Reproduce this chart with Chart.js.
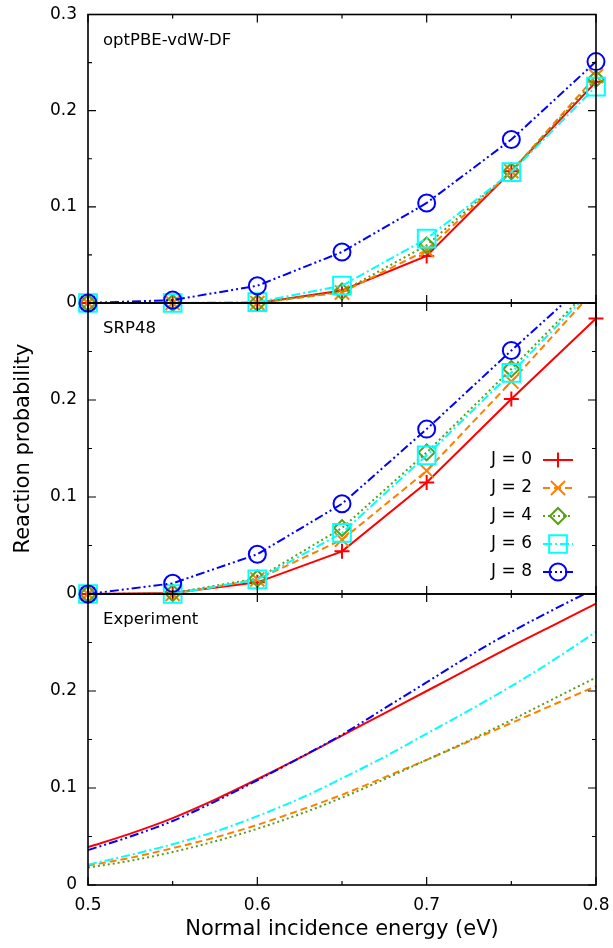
<!DOCTYPE html>
<html>
<head>
<meta charset="utf-8">
<script src="https://cdn.jsdelivr.net/npm/chart.js@4.4.1/dist/chart.umd.min.js"></script>
<style>
  html, body { margin: 0; padding: 0; background: #fff; }
  #wrap { position: relative; width: 613px; height: 948px; }
  #wrap canvas { position: absolute; left: 0; top: 0; }
</style>
</head>
<body>
<div id="wrap">
  <canvas id="panel-opt" width="613" height="948"></canvas>
  <canvas id="panel-srp" width="613" height="948"></canvas>
  <canvas id="panel-exp" width="613" height="948"></canvas>
</div>
<script>
"use strict";

// normal incidence energies (eV) of the computed points
const energies = [0.5, 0.55, 0.6, 0.65, 0.7, 0.75, 0.8];
const jLabels = ["J = 0", "J = 2", "J = 4", "J = 6", "J = 8"];

// optPBE-vdW-DF
const optJ0 = [0, 0, 0, 0.013, 0.049, 0.137, 0.230];
const optJ2 = [0, 0, 0, 0.011, 0.055, 0.137, 0.236];
const optJ4 = [0, 0, 0, 0.012, 0.060, 0.137, 0.233];
const optJ6 = [0, 0, 0.001, 0.018, 0.067, 0.136, 0.225];
const optJ8 = [0, 0.003, 0.018, 0.053, 0.104, 0.170, 0.251];

// SRP48
const srpJ0 = [0, 0.001, 0.012, 0.044, 0.115, 0.201, 0.284];
const srpJ2 = [0, 0, 0.015, 0.056, 0.127, 0.219, 0.315];
const srpJ4 = [0, 0.001, 0.016, 0.068, 0.146, 0.232, 0.321];
const srpJ6 = [0, 0, 0.015, 0.063, 0.143, 0.228, 0.318];
const srpJ8 = [0, 0.011, 0.041, 0.093, 0.170, 0.251, 0.330];

// experiment (fitted curves)
const expEnergies = [0.5, 0.525, 0.55, 0.575, 0.6, 0.625, 0.65, 0.675, 0.7, 0.725, 0.75, 0.775, 0.8];
const expJ0 = [0.039, 0.053, 0.069, 0.088, 0.109, 0.131, 0.154, 0.177, 0.200, 0.223, 0.246, 0.268, 0.290];
const expJ2 = [0.020, 0.028, 0.038, 0.049, 0.062, 0.077, 0.093, 0.111, 0.129, 0.148, 0.167, 0.186, 0.205];
const expJ4 = [0.018, 0.025, 0.034, 0.045, 0.058, 0.073, 0.090, 0.109, 0.129, 0.149, 0.170, 0.192, 0.214];
const expJ6 = [0.021, 0.031, 0.042, 0.055, 0.071, 0.089, 0.110, 0.132, 0.156, 0.180, 0.205, 0.232, 0.261];
const expJ8 = [0.036, 0.050, 0.066, 0.086, 0.108, 0.131, 0.155, 0.182, 0.209, 0.236, 0.261, 0.284, 0.306];

const FONT = "DejaVu Sans";

// line/marker look for each J
const styles = [
    { color: "#ff0000", dash: [], point: "cross", radius: 7.5 },
    { color: "#ff8000", dash: [7, 4], point: "crossRot", radius: 10 },
    { color: "#5a9e1a", dash: [2, 3], point: "rectRot", radius: 8 },
    { color: "#00ffff", dash: [9, 3, 2, 3], point: "rect", radius: 12.5 },
    { color: "#0000ff", dash: [9, 3, 2, 3, 2, 3], point: "circle", radius: 8.5 }
];

function makeSets(series, xs, withPoints) {
    return series.map((vals, i) => ({
        label: jLabels[i],
        data: vals.map((v, k) => ({ x: xs[k], y: v })),
        order: series.length - i,
        borderColor: styles[i].color,
        borderWidth: 2,
        borderDash: styles[i].dash,
        pointStyle: styles[i].point,
        pointRadius: withPoints ? styles[i].radius : 0,
        pointHoverRadius: withPoints ? styles[i].radius : 0,
        pointBorderColor: styles[i].color,
        pointBackgroundColor: "rgba(0,0,0,0)",
        pointBorderWidth: 2,
        cubicInterpolationMode: withPoints ? "default" : "monotone",
        tension: 0,
        fill: false,
        clip: { left: 14, right: 14, top: 0, bottom: 14 }
    }));
}

// frame with inward ticks on all four sides + panel name
const panelFrame = {
    id: "panelFrame",
    afterDatasetsDraw(chart, args, opts) {
        const { ctx, chartArea: a } = chart;
        const x = chart.scales.x, y = chart.scales.y;
        ctx.save();
        ctx.strokeStyle = "#000";
        ctx.lineWidth = 1.6;
        ctx.strokeRect(a.left, a.top, a.right - a.left, a.bottom - a.top);
        ctx.lineWidth = 1.2;
        ctx.beginPath();
        for (let i = 0; i <= 6; i++) {
            const len = i % 2 === 0 ? 8 : 4;
            const px = x.getPixelForValue(0.5 + 0.05 * i);
            ctx.moveTo(px, a.bottom); ctx.lineTo(px, a.bottom - len);
            ctx.moveTo(px, a.top); ctx.lineTo(px, a.top + len);
            const py = y.getPixelForValue(0.05 * i);
            ctx.moveTo(a.left, py); ctx.lineTo(a.left + len, py);
            ctx.moveTo(a.right, py); ctx.lineTo(a.right - len, py);
        }
        ctx.stroke();
        ctx.fillStyle = "#000";
        ctx.font = "16.5px '" + FONT + "'";
        ctx.textAlign = "left";
        ctx.textBaseline = "alphabetic";
        ctx.fillText(opts.name, a.left + 15, a.top + 30);
        ctx.restore();
    }
};

// key in the lower right of the SRP48 panel
const jLegend = {
    id: "jLegend",
    afterDraw(chart) {
        const { ctx, chartArea: a } = chart;
        ctx.save();
        ctx.font = "17px '" + FONT + "'";
        ctx.textAlign = "right";
        ctx.textBaseline = "middle";
        chart.data.datasets.forEach((ds, i) => {
            const yy = a.bottom - 134 + 28 * i;
            const x0 = a.right - 53, x1 = a.right - 23;
            ctx.fillStyle = "#000";
            ctx.fillText(ds.label, a.right - 64, yy);
            ctx.strokeStyle = ds.borderColor;
            ctx.lineWidth = ds.borderWidth;
            ctx.setLineDash(ds.borderDash);
            ctx.beginPath();
            ctx.moveTo(x0, yy);
            ctx.lineTo(x1, yy);
            ctx.stroke();
            ctx.setLineDash([]);
            ctx.fillStyle = "rgba(0,0,0,0)";
            ctx.lineWidth = ds.pointBorderWidth;
            Chart.helpers.drawPoint(ctx, {
                pointStyle: ds.pointStyle,
                radius: ds.pointRadius,
                rotation: 0,
                borderWidth: ds.pointBorderWidth
            }, (x0 + x1) / 2, yy);
        });
        ctx.restore();
    }
};

function panelChart(id, name, sets, top, bottom, opts) {
    const last = !!opts.last;
    const plugins = [panelFrame];
    if (opts.legend) plugins.push(jLegend);
    return new Chart(document.getElementById(id), {
        type: "line",
        data: { datasets: sets },
        options: {
            responsive: false,
            animation: false,
            devicePixelRatio: 1,
            layout: { padding: { left: 0, right: 17, top: top, bottom: last ? 0 : 948 - bottom } },
            plugins: {
                legend: { display: false },
                tooltip: { enabled: false },
                panelFrame: { name: name }
            },
            scales: {
                x: {
                    type: "linear",
                    min: 0.5,
                    max: 0.8,
                    display: last,
                    grid: { display: false, drawTicks: false },
                    border: { display: false },
                    ticks: { stepSize: 0.1, padding: 10, color: "#000", font: { family: FONT, size: 17 } },
                    title: {
                        display: last,
                        text: "Normal incidence energy (eV)",
                        color: "#000",
                        font: { family: FONT, size: 21 },
                        padding: { top: 0, bottom: 6 }
                    },
                    afterFit(s) {
                        s.height = last ? 948 - bottom : 0;
                        s.paddingLeft = 0;
                        s.paddingRight = 0;
                    }
                },
                y: {
                    type: "linear",
                    min: 0,
                    max: 0.3,
                    grid: { display: false, drawTicks: false },
                    border: { display: false },
                    ticks: {
                        stepSize: 0.1,
                        padding: 11,
                        color: "#000",
                        font: { family: FONT, size: 17 },
                        callback: (v) => (opts.hideTop && v > 0.25) ? "" : String(+v.toFixed(2))
                    },
                    title: {
                        display: !!opts.yTitle,
                        text: "Reaction probability",
                        color: "#000",
                        font: { family: FONT, size: 21 },
                        padding: { top: 11, bottom: 0 }
                    },
                    afterFit(s) {
                        s.width = 88;
                        s.paddingTop = 0;
                        s.paddingBottom = 0;
                    }
                }
            }
        },
        plugins: plugins
    });
}

panelChart("panel-opt", "optPBE-vdW-DF",
    makeSets([optJ0, optJ2, optJ4, optJ6, optJ8], energies, true), 12, 303, {});
panelChart("panel-srp", "SRP48",
    makeSets([srpJ0, srpJ2, srpJ4, srpJ6, srpJ8], energies, true), 303, 594,
    { hideTop: true, yTitle: true, legend: true });
panelChart("panel-exp", "Experiment",
    makeSets([expJ0, expJ2, expJ4, expJ6, expJ8], expEnergies, false), 594, 885,
    { hideTop: true, last: true });
</script>
</body>
</html>
